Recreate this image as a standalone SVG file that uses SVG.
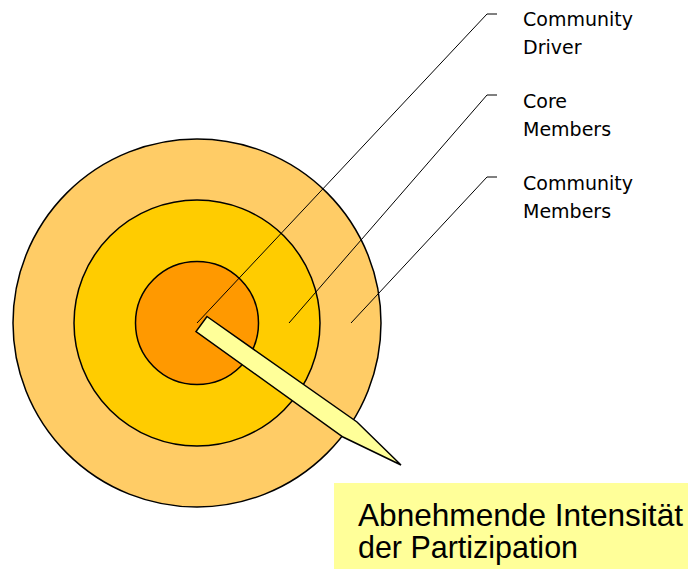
<svg xmlns="http://www.w3.org/2000/svg" width="688" height="569" viewBox="0 0 688 569">
<style>
.ring{stroke:#000;stroke-width:1.5}
.lead{fill:none;stroke:#000;stroke-width:1}
.lbl{font-family:"DejaVu Sans",Verdana,sans-serif;font-size:19px;fill:#000}
.big{font-family:"Liberation Sans",Arial,sans-serif;font-size:30.5px;fill:#000}
</style>
<rect width="688" height="569" fill="#fff"/>
<g id="target">
<circle class="ring" cx="197" cy="323" r="184" fill="#FFCC66"/>
<circle class="ring" cx="197" cy="323" r="123" fill="#FFCC00"/>
<circle class="ring" cx="197" cy="323" r="61.5" fill="#FF9900"/>
</g>
<g id="connectors">
<polyline class="lead" points="197,323 487,14 497,14"/>
<polyline class="lead" points="289,323 487,95 497,95"/>
<polyline class="lead" points="351,323 487,177 497,177"/>
</g>
<g id="pointer">
<polygon points="207,316.5 357,422 401,465 343,437 196,331.5" fill="#FFFF99" stroke="#000" stroke-width="1.5" stroke-linejoin="miter"/>
</g>
<g id="label-driver">
<text class="lbl" x="523" y="25.5">Community</text>
<text class="lbl" x="523" y="53.5">Driver</text>
</g>
<g id="label-core">
<text class="lbl" x="523" y="107.5">Core</text>
<text class="lbl" x="523" y="135.5">Members</text>
</g>
<g id="label-members">
<text class="lbl" x="523" y="189.5">Community</text>
<text class="lbl" x="523" y="217.5">Members</text>
</g>
<g id="caption">
<rect x="334" y="483" width="354" height="86" fill="#FFFF99"/>
<text class="big" x="358" y="526" textLength="325" lengthAdjust="spacingAndGlyphs">Abnehmende Intensität</text>
<text class="big" x="358" y="558" textLength="220" lengthAdjust="spacingAndGlyphs">der Partizipation</text>
</g>
</svg>
